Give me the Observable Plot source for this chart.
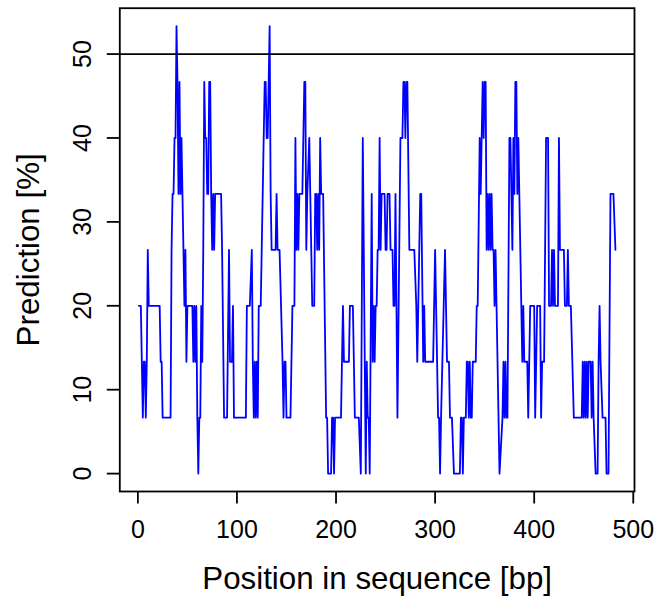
<!DOCTYPE html>
<html>
<head>
<meta charset="utf-8">
<script src="https://cdn.jsdelivr.net/npm/d3@7"></script>
<script src="https://cdn.jsdelivr.net/npm/@observablehq/plot@0.6"></script>
<style>
  html, body { margin: 0; padding: 0; background: #ffffff; }
  #chart svg { display: block; }
</style>
</head>
<body>
<div id="chart"></div>
<script>
// Vertices of the prediction trace (position in bp, prediction in %)
const positions = [
  1,3,4,5,6,7,8,9,10,11,22,23,24,25,33,34,35,36,37,38,39,40,41,42,43,44,45,46,47,48,49,50,
  55,56,57,58,59,60,61,62,63,64,65,66,67,68,69,70,71,72,73,74,75,76,77,78,84,85,87,90,92,93,
  95,96,97,109,110,113,115,116,117,118,119,120,121,122,124,125,128,129,130,131,133,134,135,139,140,141,143,146,
  147,148,149,150,154,156,158,159,160,161,162,163,166,168,169,170,171,173,174,176,178,179,180,181,182,183,
  184,185,187,190,191,192,195,196,197,198,199,205,207,208,213,214,217,219,223,225,227,230,231,232,233,234,
  236,237,238,239,240,241,242,243,244,245,246,249,250,251,252,254,255,257,258,259,260,262,265,267,268,269,
  270,271,272,274,279,281,282,283,285,286,288,289,290,298,300,303,304,305,306,310,312,314,315,317,319,325,
  326,327,328,329,331,332,333,334,335,336,337,338,341,342,343,345,346,347,348,349,350,351,352,353,354,355,
  356,357,358,359,360,361,362,365,368,369,370,371,372,373,375,376,378,379,380,381,382,383,384,385,387,388,
  389,390,393,394,396,400,401,403,406,407,408,410,412,414,415,417,418,419,420,421,424,425,426,430,431,433,
  434,435,437,440,448,449,450,451,452,453,454,455,457,458,459,460,462,464,465,466,467,469,472,473,475,477,
  480,482
];
const predictions = [
  20,20,13.33,6.67,13.33,13.33,6.67,13.33,26.67,20,20,13.33,13.33,6.67,6.67,26.67,33.33,33.33,40,40,53.33,46.67,33.33,46.67,33.33,40,33.33,26.67,20,26.67,13.33,20,
  20,13.33,20,13.33,20,6.67,0,6.67,6.67,20,13.33,26.67,46.67,40,40,33.33,33.33,46.67,46.67,33.33,26.67,33.33,26.67,33.33,33.33,26.67,6.67,6.67,26.67,13.33,
  13.33,20,6.67,6.67,20,20,26.67,13.33,6.67,13.33,6.67,13.33,6.67,20,20,26.67,46.67,46.67,40,40,53.33,33.33,26.67,26.67,33.33,26.67,26.67,13.33,
  6.67,13.33,13.33,6.67,6.67,20,20,40,26.67,33.33,26.67,33.33,33.33,46.67,46.67,26.67,33.33,40,33.33,20,20,33.33,33.33,26.67,33.33,26.67,
  40,33.33,33.33,6.67,6.67,0,0,6.67,6.67,0,6.67,6.67,20,13.33,13.33,20,20,6.67,6.67,0,40,0,13.33,6.67,6.67,0,
  33.33,13.33,20,13.33,20,20,26.67,26.67,40,26.67,33.33,33.33,26.67,26.67,33.33,33.33,26.67,26.67,20,20,33.33,6.67,40,40,46.67,46.67,
  40,46.67,46.67,26.67,26.67,20,13.33,20,33.33,33.33,13.33,20,13.33,13.33,26.67,6.67,6.67,0,6.67,26.67,13.33,13.33,6.67,6.67,0,0,
  6.67,6.67,0,6.67,6.67,13.33,13.33,6.67,13.33,6.67,6.67,13.33,13.33,20,20,40,33.33,40,46.67,40,46.67,46.67,26.67,33.33,26.67,33.33,
  26.67,33.33,26.67,26.67,20,26.67,20,0,6.67,13.33,6.67,13.33,6.67,6.67,40,40,26.67,40,33.33,46.67,46.67,33.33,40,33.33,20,13.33,
  20,13.33,13.33,6.67,20,20,6.67,20,20,6.67,13.33,13.33,40,40,20,20,26.67,20,26.67,20,20,40,26.67,26.67,20,20,
  26.67,20,20,6.67,6.67,13.33,6.67,13.33,6.67,13.33,6.67,13.33,13.33,6.67,13.33,6.67,0,0,13.33,20,13.33,6.67,6.67,0,0,33.33,
  33.33,26.67
];
const xTicks = [0, 100, 200, 300, 400, 500];
const yTicks = [0, 10, 20, 30, 40, 50];
const threshold = [50];
const xTitle = ["Position in sequence [bp]"];
const yTitle = ["Prediction [%]"];

const data = positions.map((p, i) => ({position: p, prediction: predictions[i]}));
const font = '"Liberation Sans", Arial, Helvetica, sans-serif';

const chart = Plot.plot({
  width: 671,
  height: 600,
  marginLeft: 119.3,
  marginRight: 37,
  marginTop: 7.7,
  marginBottom: 109,
  style: {fontFamily: font, background: "#ffffff", color: "#000000"},
  x: {domain: [-18.24, 501.24]},
  y: {domain: [-2.133, 55.467]},
  marks: [
    Plot.line(data, {x: "position", y: "prediction", stroke: "#0000ff", strokeWidth: 1.8}),
    Plot.ruleY(threshold, {stroke: "#000000", strokeWidth: 1.8}),
    Plot.frame({stroke: "#000000", strokeWidth: 1.8}),
    Plot.axisX(xTicks, {tickSize: 12.5, tickPadding: 15.8, fontSize: 25, label: null, strokeWidth: 1.8}),
    Plot.axisY(yTicks, {tickSize: 12.5, tickPadding: 16.8, tickRotate: -90, fontSize: 25, label: null, strokeWidth: 1.8}),
    Plot.text(xTitle, {text: d => d, frameAnchor: "bottom", textAnchor: "middle", lineAnchor: "top", dy: 75, fontSize: 31.3, fill: "#000000"}),
    Plot.text(yTitle, {text: d => d, frameAnchor: "left", textAnchor: "middle", rotate: -90, lineAnchor: "top", dx: -102.6, fontSize: 31.3, fill: "#000000"})
  ]
});
document.getElementById("chart").appendChild(chart);
</script>
</body>
</html>
